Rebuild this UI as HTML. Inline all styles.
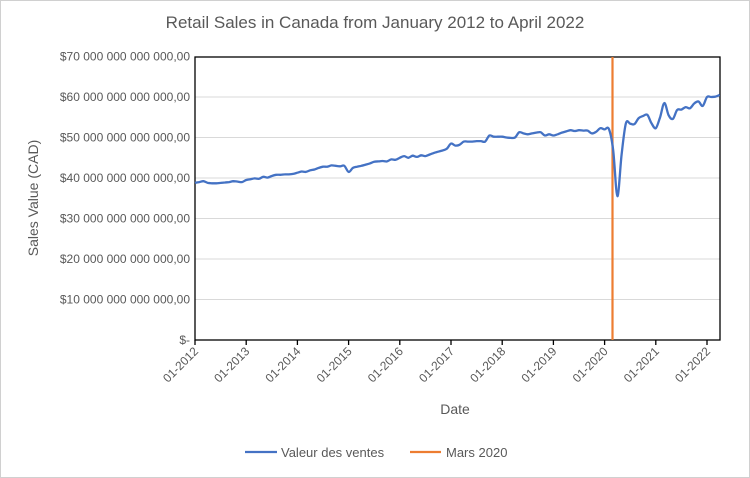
<!DOCTYPE html>
<html><head><meta charset="utf-8"><style>
html,body{margin:0;padding:0;background:#fff;}
svg{display:block;font-family:"Liberation Sans",sans-serif;}
</style></head><body>
<svg id="c" width="750" height="478" viewBox="0 0 750 478" xmlns="http://www.w3.org/2000/svg">
<rect x="0.5" y="0.5" width="749" height="477" fill="#fff" stroke="#d0d0d0"/>
<text x="375" y="28" text-anchor="middle" font-size="17" fill="#595959">Retail Sales in Canada from January 2012 to April 2022</text>
<g id="grid" stroke="#d9d9d9" stroke-width="1"></g>
<g id="ylab" font-size="12" fill="#595959" text-anchor="end"></g>
<text transform="translate(38,198) rotate(-90)" text-anchor="middle" font-size="14" fill="#595959">Sales Value (CAD)</text>
<rect x="195" y="57" width="525" height="283" fill="none" stroke="#000" stroke-width="1.3"/>
<g id="xt" stroke="#000" stroke-width="1.3"></g>
<g id="xlab" font-size="12" fill="#595959" text-anchor="end"></g>
<line x1="612.5" y1="57" x2="612.5" y2="340" stroke="#ED7D31" stroke-width="2.2"/>
<path id="ln" fill="none" stroke="#4472C4" stroke-width="2.3" stroke-linejoin="round"/>
<text x="455" y="414" text-anchor="middle" font-size="14" fill="#595959">Date</text>
<line x1="245" y1="452" x2="277" y2="452" stroke="#4472C4" stroke-width="2.3"/>
<text x="281" y="457" font-size="13" fill="#595959">Valeur des ventes</text>
<line x1="410" y1="452" x2="441" y2="452" stroke="#ED7D31" stroke-width="2.3"/>
<text x="446" y="457" font-size="13" fill="#595959">Mars 2020</text>
</svg>
<script>
var NS="http://www.w3.org/2000/svg";
function el(p,t,a,txt){var e=document.createElementNS(NS,t);for(var k in a)e.setAttribute(k,a[k]);if(txt)e.textContent=txt;document.getElementById(p).appendChild(e);}
var y0=340,ph=40.5;
for(var i=0;i<=7;i++){var y=y0-i*ph;
 if(i>0&&i<7)el("grid","line",{x1:195,x2:720,y1:y,y2:y});
 el("ylab","text",{x:190,y:y+4},i==0?"$-":"$"+(i*10)+"0 000 000 000 000,00".replace(/^0/,"").slice(0));}
// fix labels
var labs=document.getElementById("ylab").children;
for(var i=1;i<=7;i++)labs[i].textContent="$"+(i*10)+" 000 000 000 000,00";
var x0=195,yw=51.2;
for(var i=0;i<=10;i++){var x=x0+i*yw;
 el("xt","line",{x1:x,x2:x,y1:340,y2:345});
 el("xlab","text",{transform:"translate("+(x+4)+",352) rotate(-45)"},"01-"+(2012+i));}
var d=[38.8,39.0,39.2,38.8,38.7,38.7,38.8,38.9,39.0,39.2,39.1,39.0,
39.5,39.7,39.9,39.8,40.3,40.1,40.5,40.8,40.8,40.9,40.9,41.0,
41.3,41.6,41.5,41.9,42.1,42.5,42.8,42.8,43.1,43.0,42.9,43.0,
41.5,42.5,42.8,43.0,43.3,43.6,44.0,44.1,44.2,44.1,44.6,44.5,
45.0,45.4,45.0,45.5,45.2,45.6,45.4,45.8,46.2,46.5,46.8,47.2,
48.5,48.0,48.2,49.0,49.0,49.0,49.1,49.1,49.0,50.5,50.2,50.2,
50.2,50.0,49.9,50.0,51.3,51.0,50.8,51.0,51.2,51.3,50.5,50.8,
50.5,50.8,51.2,51.5,51.8,51.6,51.8,51.7,51.7,51.0,51.4,52.3,
52.0,52.1,47,35.5,46,53.5,53.4,53.3,54.8,55.3,55.6,53.5,
52.3,55,58.5,55.5,54.6,56.8,56.9,57.5,57.2,58.4,58.9,57.8,
60.0,60.0,60.1,60.5];
var pts=d.map(function(v,i){return [x0+i*yw/12, y0-v*ph/10];});
var s="M"+pts[0][0].toFixed(1)+","+pts[0][1].toFixed(1);
for(var i=0;i<pts.length-1;i++){var p0=pts[Math.max(0,i-1)],p1=pts[i],p2=pts[i+1],p3=pts[Math.min(pts.length-1,i+2)];
 var c1=[p1[0]+(p2[0]-p0[0])/6,p1[1]+(p2[1]-p0[1])/6],c2=[p2[0]-(p3[0]-p1[0])/6,p2[1]-(p3[1]-p1[1])/6];
 s+=" C"+c1[0].toFixed(1)+","+c1[1].toFixed(1)+" "+c2[0].toFixed(1)+","+c2[1].toFixed(1)+" "+p2[0].toFixed(1)+","+p2[1].toFixed(1);}
document.getElementById("ln").setAttribute("d",s);
</script>
</body></html>
